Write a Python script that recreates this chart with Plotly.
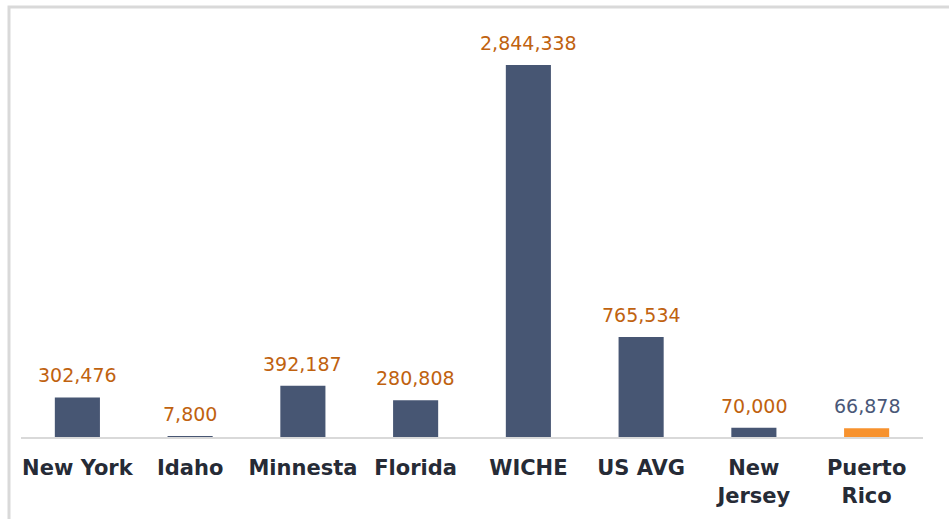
import plotly.graph_objects as go

categories = ["New York", "Idaho", "Minnesta", "Florida", "WICHE", "US AVG", "New<br>Jersey", "Puerto<br>Rico"]
values = [302476, 7800, 392187, 280808, 2844338, 765534, 70000, 66878]
bar_colors = ["#475673"] * 7 + ["#F7922E"]
label_colors = ["#C0620F"] * 7 + ["#4A5878"]
labels = [f"{v:,}" for v in values]

fig = go.Figure()
fig.add_trace(go.Bar(
    x=categories, y=values,
    marker=dict(color=bar_colors, line=dict(width=0)),
    width=0.4,
    hoverinfo="skip",
))

for c, v, t, col in zip(categories, values, labels, label_colors):
    fig.add_annotation(x=c, y=v, text=t, showarrow=False, yanchor="bottom",
                       yshift=9, font=dict(family="DejaVu Sans", size=19, color=col))

L, R, T, B = 21, 26, 10, 82
W, H = 949, 519
pw, ph = W - L - R, H - T - B
fig.add_shape(type="rect", xref="paper", yref="paper",
              x0=(9 - L) / pw, x1=(W + 10 - L) / pw,
              y0=-(B + 10) / ph, y1=(H - B - 7) / ph,
              line=dict(color="#D9D9D9", width=3), fillcolor="rgba(0,0,0,0)")

fig.update_layout(
    width=W, height=H,
    margin=dict(l=L, r=R, t=T, b=B),
    paper_bgcolor="white", plot_bgcolor="white",
    showlegend=False,
    xaxis=dict(showline=True, linecolor="#D9D9D9", linewidth=2,
               tickfont=dict(family="DejaVu Sans", size=21, color="#262B36", weight="bold"),
               ticks="outside", ticklen=11, tickcolor="rgba(0,0,0,0)",
               showgrid=False, fixedrange=True),
    yaxis=dict(range=[0, 3265000], visible=False, showgrid=False, fixedrange=True),
)

fig.write_html("out.html", config={"displayModeBar": False, "staticPlot": True},
               post_script="document.body.style.margin='0';document.body.style.overflow='hidden';")
